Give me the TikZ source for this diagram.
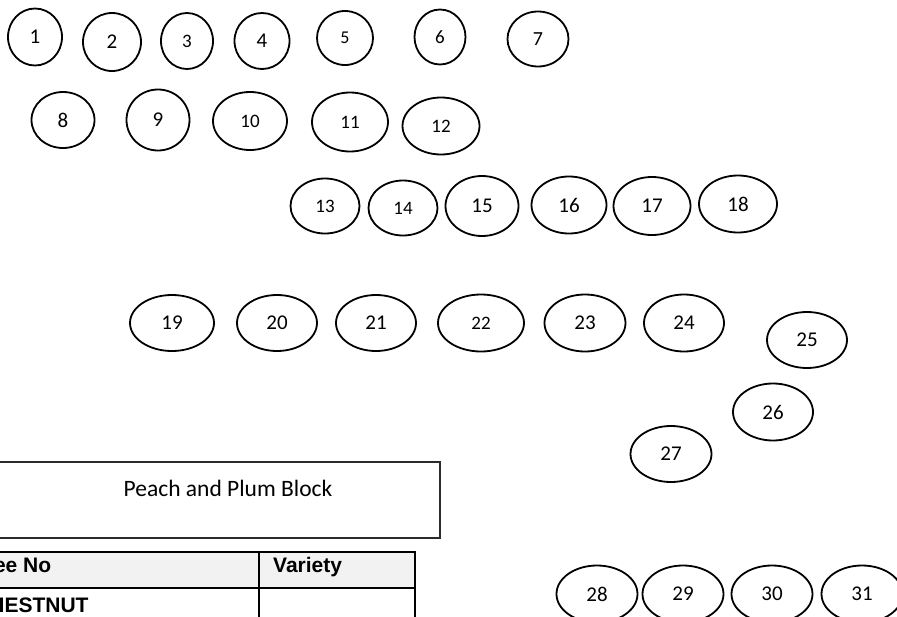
\documentclass[tikz,border=0pt]{standalone}
\usepackage{fontspec}
\setmainfont{Carlito}
\newfontfamily\tablefont{Liberation Sans}
\usepackage{xcolor}
\definecolor{headGrey}{HTML}{F2F2F2}
\definecolor{boxLine}{HTML}{2B2B2B}
\tikzset{
  treeoval/.style={ellipse, draw=black, line width=1.8pt, inner sep=0pt, font=\fontsize{#1}{#1}\selectfont},
  blockbox/.style={rectangle, draw=boxLine, line width=1.4pt, inner sep=0pt},
  blocktext/.style={font=\fontsize{23.5}{27}\selectfont, inner sep=0pt, anchor=base},
  tablecell/.style={rectangle, draw=black, line width=1.8pt, inner sep=0pt},
  tabletext/.style={font=\tablefont\bfseries\fontsize{21}{25}\selectfont, inner sep=0pt, anchor=base west},
}
\usetikzlibrary{shapes.geometric}
\begin{document}
\begin{tikzpicture}[x=1pt,y=-1pt]
  \useasboundingbox (0,0) rectangle (897,616);
  \clip (0,0) rectangle (897,616);

  % --- tree positions ---
  \foreach \n/\x/\y/\w/\h/\s in {
      1/35/37/54/57/21, 2/112/42/58/58/21, 3/187/41/52/56/19, 4/262/41/55/56/21,
      5/345/38/56/54/18, 6/440/37/51/55/19, 7/538/39/61/55/20,
      8/63/120/63/56/21, 9/158/120/63/61/21, 10/250/121/74/58/19,
      11/350/122/76/59/19, 12/441/126/77/57/19,
      13/325/206/69/55/19, 14/403/208/69/55/19, 15/482/206/73/60/21,
      16/569/205/75/57/21, 17/652/206/77/58/21, 18/738/204/78/57/21,
      19/172/323/84/56/21, 20/277/323/80/56/21, 21/376/323/80/56/21,
      22/481/323/86/57/19, 23/585/323/81/57/21, 24/684/323/80/57/21,
      25/807/340/80/56/21, 26/773/412/80/57/21, 27/671/454/81/56/21,
      28/597/594/81/57/21, 29/683/594/81/57/21, 30/772/594/81/57/21,
      31/862/594/81/57/21}
    \node[treeoval=\s, minimum width=\w pt, minimum height=\h pt] (tree\n) at (\x,\y) {\n};

  % --- block title ---
  \node[blockbox, minimum width=480pt, minimum height=76pt] (block) at (200,500) {};
  \node[blocktext] (blocktitle) at (228,496) {Peach and Plum Block};

  % --- variety table ---
  \node[tablecell, fill=headGrey, minimum width=299pt, minimum height=36pt] (headno) at (109.5,570) {};
  \node[tablecell, fill=headGrey, minimum width=156pt, minimum height=36pt] (headvar) at (337,570) {};
  \node[tablecell, minimum width=299pt, minimum height=52pt] (rowno) at (109.5,614) {};
  \node[tablecell, minimum width=156pt, minimum height=52pt] (rowvar) at (337,614) {};
  \node[tabletext] (headnotext) at (-26,572) {Tree No};
  \node[tabletext] (headvartext) at (273,572) {Variety};
  \node[tabletext] (rownotext) at (-26,612) {CHESTNUT};
\end{tikzpicture}
\end{document}
